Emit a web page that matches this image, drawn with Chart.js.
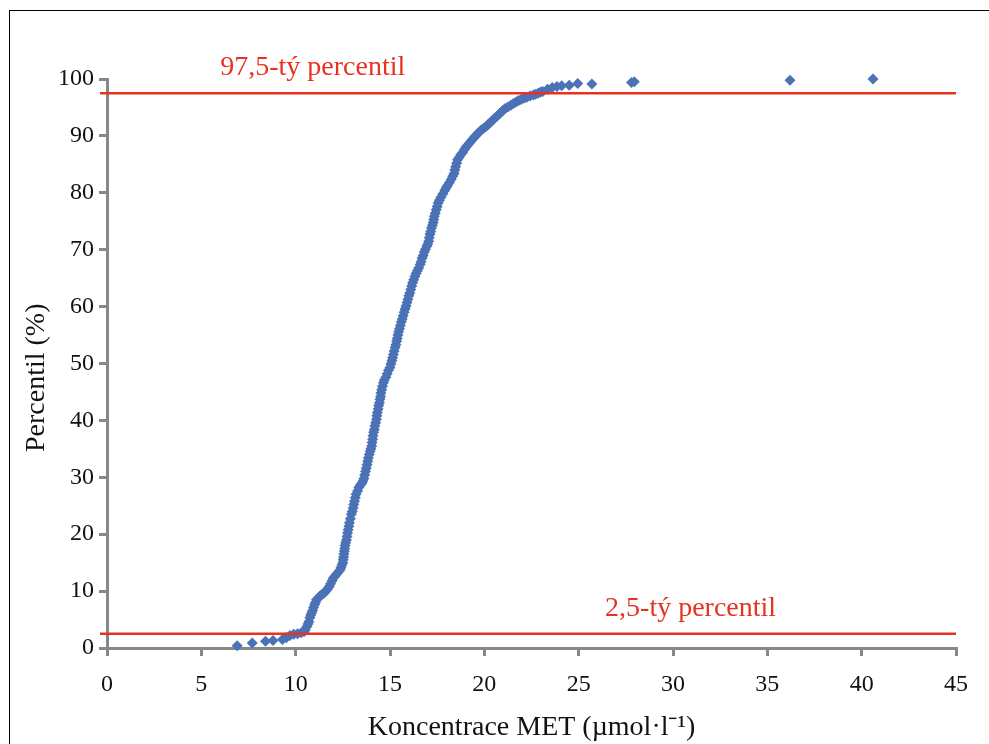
<!DOCTYPE html>
<html>
<head>
<meta charset="utf-8">
<script src="https://cdn.jsdelivr.net/npm/chart.js@4.4.1/dist/chart.umd.min.js"></script>
<style>
  html, body { margin: 0; padding: 0; background: #fff; overflow: hidden; }
  #wrap { position: relative; width: 989px; height: 744px; }
  #ramecek { position: absolute; left: 9px; top: 10px; width: 1100px; height: 900px; border: 1px solid #000; }
  canvas { position: absolute; left: 0; top: 0; }
</style>
</head>
<body>
<div id="wrap">
  <div id="ramecek"></div>
  <canvas id="grafPercentil" width="989" height="744"></canvas>
</div>
<script>
// koncentrace MET (umol/l) a odpovidajici percentil (%)
const koncentrace = [
  6.9, 7.7, 8.4, 8.8, 9.3, 9.5, 9.7, 9.9, 10.1, 10.3, 10.45, 10.5, 10.6, 10.65, 10.7, 10.75,
  10.8, 10.85, 10.9, 10.95, 11.0, 11.05, 11.1, 11.2, 11.28, 11.35, 11.45, 11.55, 11.62, 11.7,
  11.78, 11.85, 11.93, 12.0, 12.08, 12.15, 12.25, 12.35, 12.4, 12.45, 12.5, 12.52, 12.54, 12.56,
  12.58, 12.6, 12.62, 12.65, 12.69, 12.72, 12.75, 12.78, 12.82, 12.85, 12.9, 12.95, 13.0, 13.05,
  13.08, 13.12, 13.16, 13.2, 13.28, 13.35, 13.42, 13.5, 13.56, 13.62, 13.66, 13.7, 13.74, 13.78,
  13.82, 13.85, 13.9, 13.95, 13.99, 14.03, 14.05, 14.08, 14.1, 14.13, 14.17, 14.2, 14.24, 14.28,
  14.3, 14.33, 14.37, 14.4, 14.44, 14.47, 14.5, 14.52, 14.56, 14.6, 14.65, 14.7, 14.78, 14.85,
  14.92, 15.0, 15.05, 15.1, 15.14, 15.18, 15.22, 15.27, 15.31, 15.35, 15.38, 15.42, 15.46, 15.5,
  15.55, 15.6, 15.65, 15.7, 15.75, 15.8, 15.85, 15.9, 15.95, 16.0, 16.05, 16.1, 16.15, 16.2,
  16.26, 16.32, 16.38, 16.45, 16.52, 16.6, 16.65, 16.7, 16.76, 16.82, 16.88, 16.95, 17.0, 17.05,
  17.08, 17.12, 17.16, 17.2, 17.25, 17.29, 17.32, 17.35, 17.4, 17.45, 17.5, 17.55, 17.62, 17.7,
  17.8, 17.9, 17.98, 18.05, 18.15, 18.25, 18.32, 18.4, 18.44, 18.48, 18.53, 18.58, 18.66, 18.75,
  18.85, 18.95, 19.02, 19.1, 19.2, 19.3, 19.4, 19.5, 19.6, 19.7, 19.82, 19.95, 20.08, 20.2,
  20.3, 20.4, 20.52, 20.65, 20.78, 20.9, 21.0, 21.1, 21.25, 21.4, 21.55, 21.7, 21.82, 21.95,
  22.1, 22.25, 22.42, 22.6, 22.72, 22.85, 22.98, 23.1, 23.35, 23.6, 23.85, 24.1, 24.5, 24.95,
  25.7, 27.8, 27.95, 36.2, 40.6
];
const percentil = [
  0.4, 0.9, 1.2, 1.3, 1.5, 1.8, 2.2, 2.4, 2.5, 2.7, 2.9, 3.2, 3.8, 4.2, 4.6, 5.3,
  5.8, 6.2, 6.6, 7.1, 7.6, 8.0, 8.5, 8.8, 9.1, 9.3, 9.5, 9.8, 10.1, 10.4,
  10.8, 11.3, 11.8, 12.3, 12.6, 12.9, 13.3, 13.7, 14.1, 14.6, 15.0, 15.5, 16.0, 16.5,
  17.0, 17.5, 18.0, 18.5, 19.0, 19.6, 20.2, 20.8, 21.4, 22.0, 22.7, 23.5, 24.0, 24.6,
  25.2, 25.8, 26.4, 27.0, 27.6, 28.2, 28.6, 28.9, 29.3, 29.8, 30.4, 31.0, 31.6, 32.2,
  32.8, 33.4, 34.0, 34.6, 35.0, 35.5, 36.1, 36.7, 37.3, 37.9, 38.4, 39.0, 39.6, 40.2,
  40.8, 41.4, 42.0, 42.6, 43.1, 43.7, 44.2, 44.8, 45.4, 46.0, 46.6, 47.1, 47.6, 48.2,
  48.8, 49.3, 49.9, 50.5, 51.0, 51.6, 52.2, 52.8, 53.3, 53.9, 54.4, 55.0, 55.6, 56.1,
  56.7, 57.3, 57.8, 58.4, 59.0, 59.6, 60.1, 60.7, 61.3, 61.9, 62.4, 63.0, 63.6, 64.2,
  64.7, 65.3, 65.8, 66.3, 66.8, 67.4, 67.9, 68.5, 69.0, 69.6, 70.1, 70.6, 71.0, 71.5,
  72.1, 72.7, 73.2, 73.8, 74.3, 74.8, 75.3, 75.9, 76.4, 77.0, 77.6, 78.2, 78.7, 79.2,
  79.8, 80.4, 80.9, 81.3, 81.8, 82.4, 82.9, 83.4, 84.0, 84.6, 85.2, 85.8, 86.2, 86.7,
  87.1, 87.6, 88.0, 88.3, 88.7, 89.1, 89.5, 89.9, 90.2, 90.6, 91.0, 91.3, 91.6, 92.0,
  92.3, 92.6, 93.0, 93.4, 93.8, 94.2, 94.5, 94.8, 95.1, 95.4, 95.7, 96.0, 96.2, 96.4,
  96.6, 96.8, 97.0, 97.2, 97.3, 97.5, 97.7, 97.8, 98.2, 98.5, 98.7, 98.8, 98.9, 99.2,
  99.1, 99.4, 99.5, 99.8, 100
];
const hranice = [97.5, 2.5];
const hraniceText = ['97,5-tý percentil', '2,5-tý percentil'];

const cervena = '#e8321f';
const modra = '#4b72b6';
const seda = '#878787';
const pismo = '"Liberation Serif", "Times New Roman", serif';

const body = koncentrace.map((k, i) => ({ x: k, y: percentil[i] }));
const cary = hranice.map(h => ({
  type: 'line',
  data: [{ x: -0.37, y: h }, { x: 45, y: h }],
  borderColor: cervena,
  borderWidth: 2.5,
  pointRadius: 0,
  clip: false,
  order: 0
}));

// popisky cervenych car + nazev osy y
const popisky = {
  id: 'popisky',
  afterDatasetsDraw(chart) {
    const { ctx, scales: { x, y } } = chart;
    ctx.save();
    ctx.font = '28px ' + pismo;
    ctx.fillStyle = cervena;
    ctx.textBaseline = 'middle';
    ctx.fillText(hraniceText[0], x.getPixelForValue(6.0), y.getPixelForValue(102.0));
    ctx.fillText(hraniceText[1], x.getPixelForValue(26.4), y.getPixelForValue(7.0));

    ctx.fillStyle = '#111';
    ctx.textAlign = 'center';
    ctx.translate(37, y.getPixelForValue(47.5));
    ctx.rotate(-Math.PI / 2);
    ctx.fillText('Percentil (%)', 0, 0);
    ctx.restore();
  }
};

const ctx = document.getElementById('grafPercentil').getContext('2d');
const chart = new Chart(ctx, {
  type: 'scatter',
  data: {
    datasets: [
      ...cary,
      {
        label: 'Percentil',
        data: body,
        pointStyle: 'rectRot',
        pointRadius: 5.5,
        pointBackgroundColor: modra,
        pointBorderWidth: 0,
        clip: false,
        order: 1
      }
    ]
  },
  options: {
    responsive: false,
    animation: false,
    events: [],
    layout: { padding: { top: 79, right: 33, left: 0, bottom: 0 } },
    plugins: { legend: { display: false }, tooltip: { enabled: false } },
    scales: {
      x: {
        min: 0, max: 45,
        afterFit(s) { s.height = 96; },
        ticks: { stepSize: 5, color: '#111', padding: 14, font: { family: pismo, size: 24 } },
        grid: { drawOnChartArea: false, drawTicks: true, tickLength: 8, color: seda, lineWidth: 3 },
        border: { color: seda, width: 3 },
        title: { display: true, text: 'Koncentrace MET (µmol·l⁻¹)', color: '#111',
                 padding: { top: 0, bottom: 0 }, font: { family: pismo, size: 28 } }
      },
      y: {
        min: 0, max: 100,
        afterFit(s) { s.width = 107; },
        ticks: { stepSize: 10, color: '#111', padding: 5, font: { family: pismo, size: 24 } },
        grid: { drawOnChartArea: false, drawTicks: true, tickLength: 8, color: seda, lineWidth: 3 },
        border: { color: seda, width: 3 }
      }
    }
  },
  plugins: [popisky]
});
</script>
</body>
</html>
